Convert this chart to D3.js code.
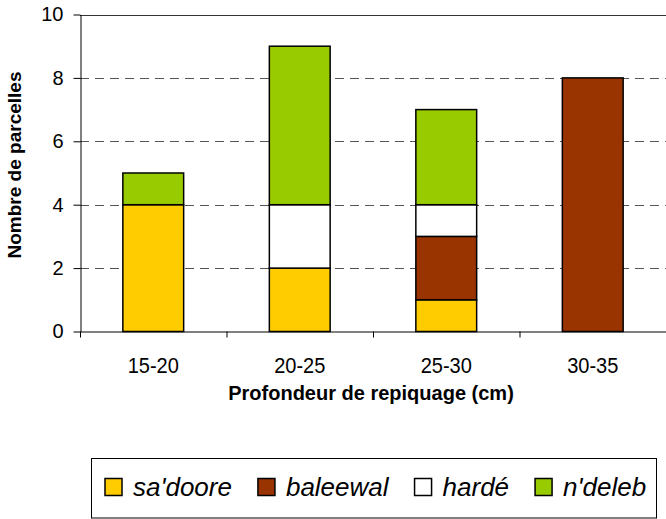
<!DOCTYPE html>
<html><head><meta charset="utf-8">
<script src="https://cdn.jsdelivr.net/npm/d3@7/dist/d3.min.js"></script>
<style>
body{margin:0;background:#fff;}
svg{display:block;font-family:"Liberation Sans",Arial,sans-serif;}
</style></head>
<body><svg id="c" width="666" height="519"></svg>
<script>
const categories = ["15-20","20-25","25-30","30-35"];
const seriesNames = ["sa'doore","baleewal","hardé","n'deleb"];
const sadoore  = [4,2,1,0];
const baleewal = [0,0,2,8];
const harde    = [0,2,1,0];
const ndeleb   = [1,5,3,0];
const yTicks = [0,2,4,6,8,10];
const colors = ["#FFCC00","#993300","#FFFFFF","#99CC00"];

const svg = d3.select("#c");
const L = 80, R = 666, T = 14.5, B = 331.5;

const x = d3.scaleBand().domain(categories).range([L,R]).padding(0);
const xb = d3.scaleLinear().domain([0,categories.length]).range([L,R]);
const y = d3.scaleLinear().domain([0,10]).range([B,T]);

const rows = categories.map((c,i)=>({cat:c,"sa'doore":sadoore[i],"baleewal":baleewal[i],"hardé":harde[i],"n'deleb":ndeleb[i]}));
const stack = d3.stack().keys(seriesNames)(rows);

// grid
const g = svg.append("g");
g.selectAll("line.grid").data(yTicks.filter(t=>t>0)).join("line")
  .attr("x1",L).attr("x2",R)
  .attr("y1",d=>Math.round(y(d))+0.5).attr("y2",d=>Math.round(y(d))+0.5)
  .attr("stroke",d=>d===10?"#333":"#555")
  .attr("stroke-width",1)
  .attr("stroke-dasharray",d=>d===10?null:"9,6");

// bars
const bw = x.bandwidth()*0.415;
stack.forEach((s,k)=>{
  svg.append("g").selectAll("rect").data(s.filter(d=>d[1]-d[0]>0)).join("rect")
    .attr("x",d=>x(d.data.cat)+x.bandwidth()/2-bw/2)
    .attr("width",bw)
    .attr("y",d=>y(d[1]))
    .attr("height",d=>y(d[0])-y(d[1]))
    .attr("fill",colors[k])
    .attr("stroke","#000").attr("stroke-width",1.5);
});

// y axis
const ya = svg.append("g").attr("transform",`translate(${L+0.5},0)`)
  .call(d3.axisLeft(y).tickValues(yTicks).tickSize(7).tickPadding(10).tickSizeOuter(0));
ya.select(".domain").attr("stroke","#000");
ya.selectAll(".tick line").attr("stroke","#000");
ya.selectAll("text").attr("font-size",20).attr("fill","#000").attr("font-family","Liberation Sans, Arial, sans-serif");

// x axis line + boundary ticks
const xa = svg.append("g").attr("transform",`translate(0,${B})`)
  .call(d3.axisBottom(xb).tickValues(d3.range(0,categories.length+1)).tickSize(6).tickFormat("").tickSizeOuter(0));
xa.select(".domain").attr("stroke","#000");
xa.selectAll(".tick line").attr("stroke","#000");

// x labels
svg.append("g").selectAll("text").data(categories).join("text")
  .attr("transform",d=>`translate(${x(d)+x.bandwidth()/2},373) scale(0.91,1)`)
  .attr("text-anchor","middle").attr("font-size",22).text(d=>d);

svg.append("text").attr("x",371).attr("y",400).attr("text-anchor","middle")
  .attr("font-size",20).attr("font-weight","bold").text("Profondeur de repiquage (cm)");

svg.append("text").attr("transform","translate(21,165) rotate(-90)")
  .attr("text-anchor","middle").attr("font-size",19).attr("font-weight","bold").text("Nombre de parcelles");

// legend
const lg = svg.append("g");
lg.append("rect").attr("x",91.5).attr("y",458.5).attr("width",565).attr("height",59.5)
  .attr("fill","#fff").attr("stroke","#000").attr("stroke-width",1);
let lx = 105;
seriesNames.forEach((n,k)=>{
  lg.append("rect").attr("x",lx).attr("y",478.5).attr("width",17).attr("height",17)
    .attr("fill",colors[k]).attr("stroke","#000").attr("stroke-width",1.5);
  const t = lg.append("text").attr("x",lx+28).attr("y",496).attr("font-size",26)
    .attr("font-style","italic").text(n);
  lx = lx+28+t.node().getComputedTextLength()+26;
});
</script></body></html>
